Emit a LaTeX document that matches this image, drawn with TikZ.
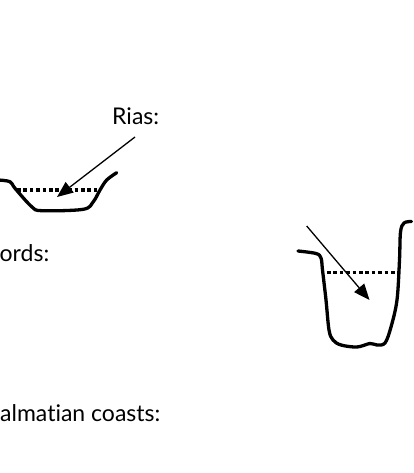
\documentclass[tikz,border=0pt]{standalone}
\usepackage{fontspec}
\setmainfont[Ligatures=NoCommon]{Lato}
\usetikzlibrary{arrows.meta}
\begin{document}
\begin{tikzpicture}[x=1pt,y=-1pt,
  label text/.style={inner sep=0pt, font=\fontsize{23}{26}\selectfont},
  valley/.style={line width=3.3pt, line cap=round, line join=round},
  waterline/.style={line width=3.2pt, dash pattern=on 3.6pt off 2.8pt},
  pointer/.style={line width=1.3pt, -{Triangle[length=16pt,width=13pt]}}]
  \useasboundingbox (0,0) rectangle (414,473);
  % labels
  \node[label text, anchor=base west] (rias) at (112,125) {Rias:};
  \node[label text, anchor=base west] (fjords) at (-0.5,261) {ords:};
  \node[label text, anchor=base west] (dalm) at (0,421.5) {almatian coasts:};
  % ria cross-section
  \draw[valley] plot[smooth, tension=0.55] coordinates
    {(-2,180) (10,181.7) (15,188.3) (31.7,206.7) (42,210.7) (83.3,209.3)
     (93.3,201.7) (100,190) (106.7,180) (116.7,172.7)};
  \draw[waterline] (17,190) -- (97,190);
  \coordinate (riasA) at (135,137);
  \coordinate (riasB) at (57,197);
  \draw[pointer] (riasA) -- (riasB);
  % fjord cross-section
  \draw[valley] plot[smooth, tension=0.55] coordinates
    {(298,251) (316,253.5) (321,258) (322.5,270) (326,300) (329,330) (333,340)
     (341,345) (357,347) (370,343.5) (377,345) (385,343) (391,327) (397,300)
     (399.5,260) (400.5,232) (404,223) (411.5,221.5)};
  \draw[waterline] (327,272.7) -- (398,272.7);
  \coordinate (fjA) at (306.7,226);
  \coordinate (fjB) at (369.5,300);
  \draw[pointer] (fjA) -- (fjB);
\end{tikzpicture}
\end{document}
